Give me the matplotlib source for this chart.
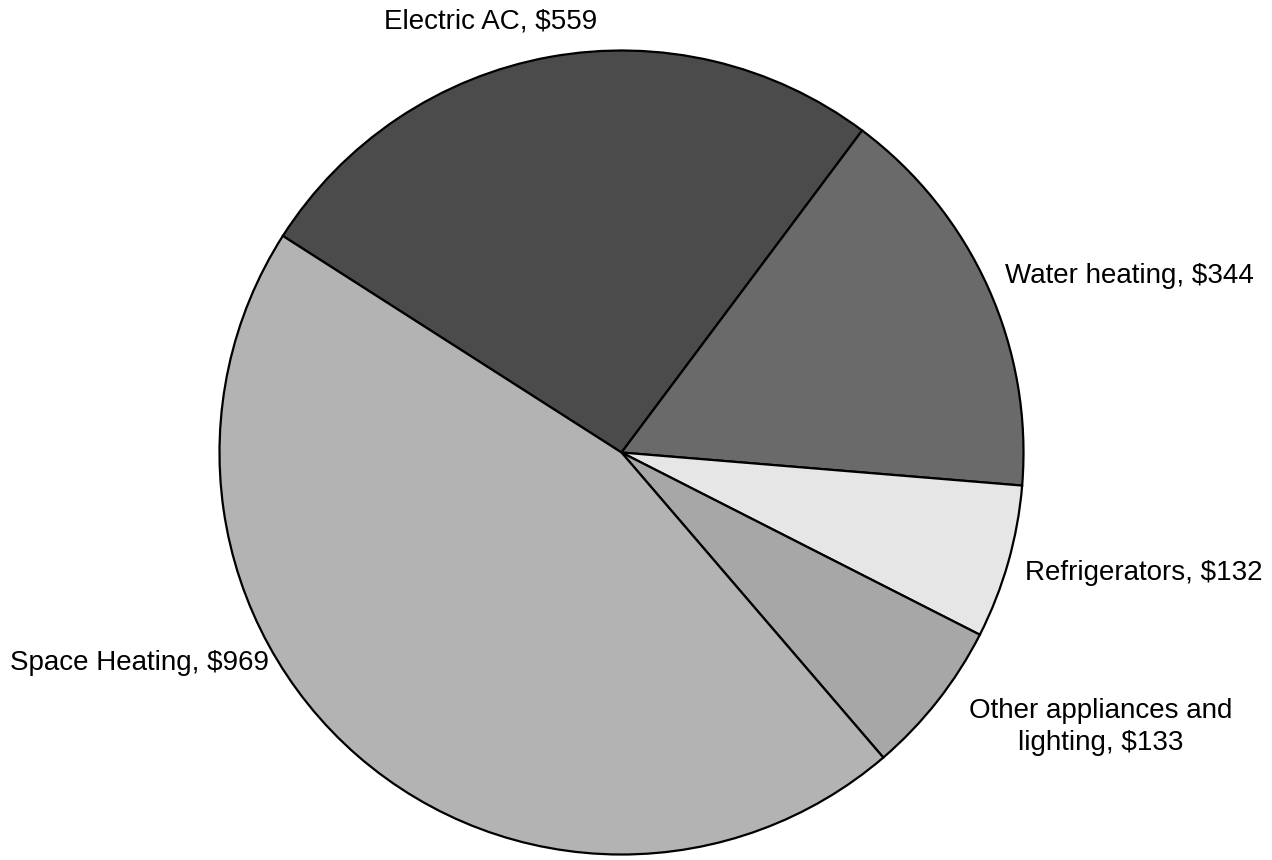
import matplotlib.pyplot as plt

categories = ['Electric AC', 'Water heating', 'Refrigerators',
              'Other appliances and\nlighting', 'Space Heating']
costs = [559, 344, 132, 133, 969]
colors = ['#4b4b4b', '#6a6a6a', '#e6e6e6', '#a7a7a7', '#b3b3b3']

plt.rcParams['font.family'] = ['Liberation Sans', 'DejaVu Sans']

W, H = 1272, 860
cx, cy, r = 621.5, 452.5, 402

fig = plt.figure(figsize=(W / 100, H / 100), dpi=100)
ax = fig.add_axes([0, 0, 1, 1])
ax.pie(costs, colors=colors, startangle=147.4, counterclock=False,
       wedgeprops=dict(edgecolor='black', linewidth=1.6))
ax.set_xlim(-cx / r, (W - cx) / r)
ax.set_ylim(-(H - cy) / r, cy / r)
ax.set_aspect('equal')
ax.axis('off')


def px(x, y):
    return (x - cx) / r, (cy - y) / r


labels = [f'{c}, ${v}' for c, v in zip(categories, costs)]
# label placement (pixel coords in the reference image)
spots = [(491, 22, 'center'), (1005, 276, 'left'), (1025, 573, 'left'),
         (1101, 727, 'center'), (10, 663, 'left')]
for lab, (x, y, ha) in zip(labels, spots):
    tx, ty = px(x, y)
    ax.text(tx, ty, lab, ha=ha, va='center', fontsize=20,
            multialignment='center', linespacing=1.3)

fig.savefig('out.png', dpi=100, facecolor='white')
